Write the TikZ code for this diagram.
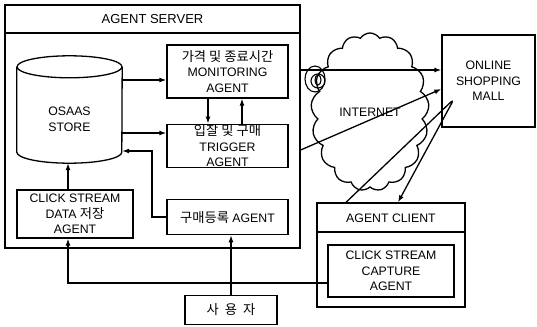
\documentclass[tikz,border=0pt]{standalone}
\usepackage{fontspec}
\setmainfont{Liberation Sans}
\newfontfamily\kr[Scale=1.08]{Noto Sans CJK KR}
\usetikzlibrary{positioning,arrows.meta,shapes.symbols}

\begin{document}
\begin{tikzpicture}[
    x=1pt, y=-1pt,
    box/.style={
        rectangle,draw,line width=1.3pt,
        inner sep=0pt,
        align=center,
        font=\fontsize{12.3}{15.5}\selectfont
    },
    txt/.style={inner sep=0pt, align=center, font=\fontsize{12.3}{15.5}\selectfont},
    arr/.style={-{Latex[length=7pt,width=5pt]}, line width=1.3pt}
]
\useasboundingbox (0,0) rectangle (537,326);

% agent server
\node[box, minimum width=295pt, minimum height=243pt] (server) at (152.5,126.5) {};
\node[txt, font=\fontsize{13}{15.5}\selectfont] (servertitle) at (152.5,19) {AGENT SERVER};
\draw[line width=1.3pt] (server.west |- 0,33) -- (server.east |- 0,33);

\node[minimum width=105pt, minimum height=107pt, inner sep=0pt,
      label={[txt, yshift=-10pt]center:{OSAAS\\STORE}}] (store) at (69.5,109.5) {};
\draw[line width=1.3pt] ([yshift=-11pt]store.north) ellipse[x radius=52.5pt, y radius=11pt];
\draw[line width=1.3pt] ([yshift=-11pt]store.north west) -- ([yshift=11pt]store.south west)
    arc[start angle=180, end angle=360, x radius=52.5pt, y radius=11pt]
    -- ([yshift=-11pt]store.north east);

\node[box, minimum width=121pt, minimum height=53pt] (mon) at (227.5,71.5) {{\kr 가격 및 종료시간}\\MONITORING\\AGENT};
\node[box, minimum width=121pt, minimum height=43pt, below=25pt of mon] (trig) {{\kr 입찰 및 구매}\\TRIGGER\\AGENT};
\node[box, minimum width=121pt, minimum height=35pt, below=31pt of trig] (reg) {{\kr 구매등록} AGENT};
\node[box, minimum width=116pt, minimum height=48pt] (csa) at (75,214) {CLICK STREAM\\DATA {\kr 저장}\\AGENT};
\node[box, minimum width=92pt, minimum height=29pt] (user) at (231,310) {\kr 사\hspace{6pt}용\hspace{6pt}자};

% internet and mall
\node[cloud, draw, line width=1.3pt, cloud puffs=17, cloud puff arc=115, cloud ignores aspect,
      minimum width=118pt, minimum height=158pt, txt] (net) at (370,112) {INTERNET};
\draw[line width=1.1pt] (315,79) ellipse[x radius=10pt, y radius=13pt];
\draw[line width=1.1pt] (318,81) circle[radius=7pt];
\draw[line width=1.1pt] (318,80) ellipse[x radius=3pt, y radius=5pt];
\node[box, minimum width=93pt, minimum height=92pt] (mall) at (488.5,81) {ONLINE\\SHOPPING\\MALL};

% agent client
\node[box, minimum width=148pt, minimum height=104pt] (client) at (391,255) {};
\node[txt] (clienttitle) at (391,218) {AGENT CLIENT};
\draw[line width=1.3pt] (client.west |- 0,232) -- (client.east |- 0,232);
\node[box, minimum width=126pt, minimum height=52pt] (cap) at (391,271) {CLICK STREAM\\CAPTURE\\AGENT};

\draw[arr] (store.east |- 0,80) -- (mon.west |- 0,80);
\draw[arr] (store.east |- 0,133) -- (trig.west |- 0,133);
\draw[arr] (mon.south -| 208,0) -- (trig.north -| 208,0);
\draw[arr] (trig.north -| 242,0) -- (mon.south -| 242,0);
\draw[arr] (reg.west) -| (152,151) -- (store.east |- 0,151);
\draw[arr] (csa.north -| 68,0) -- (store.south -| 68,0);
\draw[arr] (user.north) -- (user.north |- reg.south);
\draw[arr] ([yshift=-12pt]cap.west) -| (csa.south -| 68,0);
\draw[arr] (server.east |- 0,70) -- (mall.west |- 0,70);
\draw[arr] (server.east |- 0,150) -- (mall.west |- 0,89);
\draw[arr, rounded corners=5pt] (client.north -| 346,0) -- (454,99) -- (client.north -| 398,0);
\end{tikzpicture}
\end{document}
